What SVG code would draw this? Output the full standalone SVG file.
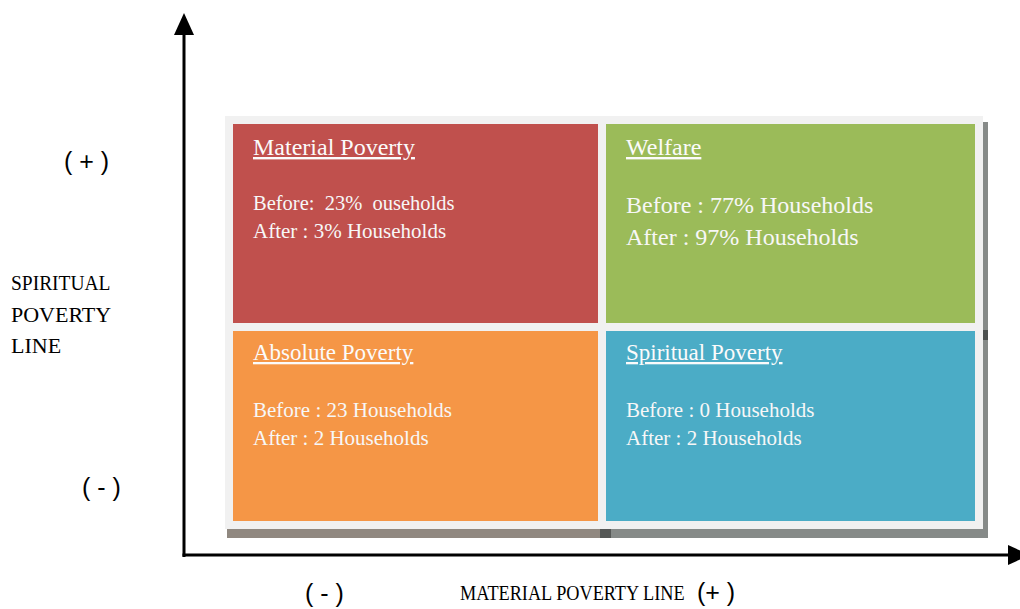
<svg xmlns="http://www.w3.org/2000/svg" width="1020" height="609" viewBox="0 0 1020 609">
<defs>
<style>
.serif{font-family:"Liberation Serif","Times New Roman",serif;}
.sans{font-family:"Liberation Sans",Arial,sans-serif;fill:#000;font-size:25px;}
.ttl{font-family:"Liberation Serif","Times New Roman",serif;fill:#fbfbfb;text-decoration:underline;}
.body{font-family:"Liberation Serif","Times New Roman",serif;fill:#f7f7f7;}
.axis{stroke:#000;stroke-width:3;fill:none;}
</style>
<marker id="arr" markerUnits="userSpaceOnUse" markerWidth="24" markerHeight="22" refX="1" refY="10" orient="auto">
<path d="M0,0 L22,10 L0,20 z" fill="#000"/>
</marker>
</defs>
<rect width="1020" height="609" fill="#fff"/>

<g id="panel">
<rect x="227" y="122" width="761" height="416" fill="#868a88"/>
<rect x="227" y="529" width="374" height="9" fill="#908880"/>
<rect x="600" y="529" width="11" height="9" fill="#555856"/>
<rect x="983" y="330" width="5" height="10" fill="#4c504f"/>
<rect x="225" y="116" width="758" height="413" fill="#f1f1f1"/>
</g>

<g id="material-poverty">
<rect x="233" y="124" width="365" height="199" fill="#c0504d"/>
<text class="ttl" x="253" y="155" font-size="24">Material Poverty</text>
<text class="body" x="253" y="210" font-size="20.5" xml:space="preserve">Before:  23%  ouseholds</text>
<text class="body" x="253" y="238" font-size="21">After : 3% Households</text>
</g>

<g id="welfare">
<rect x="606" y="124" width="369" height="199" fill="#9bbb59"/>
<text class="ttl" x="626" y="155" font-size="24">Welfare</text>
<text class="body" x="626" y="213" font-size="24">Before : 77% Households</text>
<text class="body" x="626" y="245" font-size="24">After : 97% Households</text>
</g>

<g id="absolute-poverty">
<rect x="233" y="331" width="365" height="190" fill="#f59646"/>
<text class="ttl" x="253" y="360" font-size="23">Absolute Poverty</text>
<text class="body" x="253" y="417" font-size="21">Before : 23 Households</text>
<text class="body" x="253" y="445" font-size="21">After : 2 Households</text>
</g>

<g id="spiritual-poverty">
<rect x="606" y="331" width="369" height="190" fill="#4bacc6"/>
<text class="ttl" x="626" y="360" font-size="23">Spiritual Poverty</text>
<text class="body" x="626" y="417" font-size="21">Before : 0 Households</text>
<text class="body" x="626" y="445" font-size="21">After : 2 Households</text>
</g>

<g id="connectors">
<line class="axis" x1="184" y1="557" x2="184" y2="34" marker-end="url(#arr)"/>
<line class="axis" x1="182.5" y1="555" x2="1009" y2="555" marker-end="url(#arr)"/>
</g>

<g id="labels">
<text class="sans" x="64" y="170" xml:space="preserve">( + )</text>
<text class="sans" x="82" y="496" xml:space="preserve">( - )</text>
<text class="sans" x="305" y="602" xml:space="preserve">( - )</text>
<text class="sans" x="697" y="601" xml:space="preserve">(+ )</text>
<text class="serif" font-size="22" transform="translate(11,290) scale(0.885,1)">SPIRITUAL</text>
<text class="serif" x="11" y="322" font-size="22">POVERTY</text>
<text class="serif" x="11" y="353" font-size="22">LINE</text>
<text class="serif" font-size="22" transform="translate(460,600) scale(0.83,1)">MATERIAL POVERTY LINE</text>
</g>
</svg>
